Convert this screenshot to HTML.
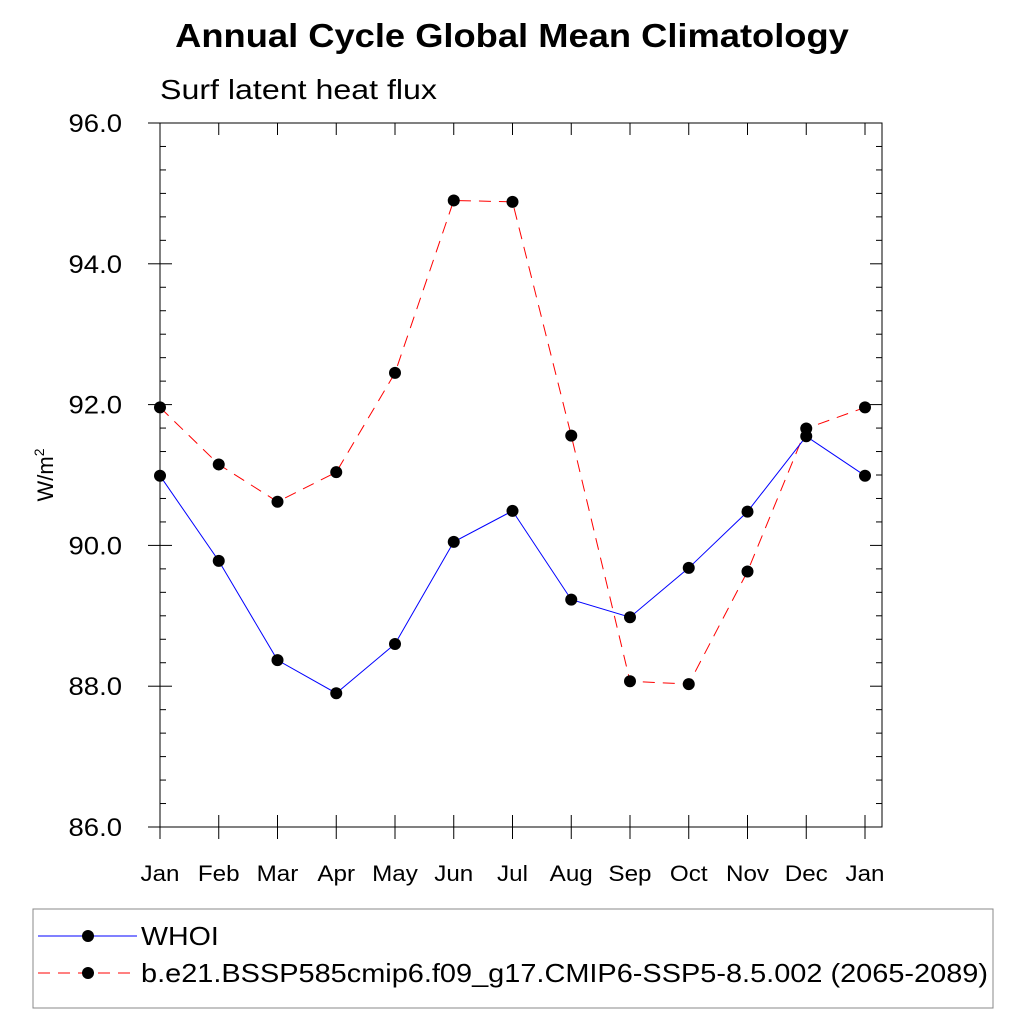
<!DOCTYPE html>
<html><head><meta charset="utf-8"><style>
body{margin:0;background:#fff;}
svg text{font-family:"Liberation Sans",sans-serif;}
</style></head><body>
<svg width="1024" height="1024" viewBox="0 0 1024 1024">
<text class="st" x="512" y="47" text-anchor="middle" font-size="33" font-weight="bold">Annual Cycle Global Mean Climatology</text>
<text class="st" data-w="277" x="160" y="99" font-size="28">Surf latent heat flux</text>
<g id="axes"></g>
<g id="series"></g>
<text transform="translate(53,475) rotate(-90)" text-anchor="middle" font-size="22">W/m<tspan dy="-9" font-size="14">2</tspan></text>
<rect x="33" y="909" width="960" height="99" fill="none" stroke="#888" stroke-width="1"/>
<g>
<line x1="38" y1="936" x2="137" y2="936" stroke="#00f" stroke-width="1"/>
<circle cx="88" cy="936" r="6" fill="#000"/>
<text class="st" x="141" y="945" font-size="26">WHOI</text></g>
<g>
<line x1="38" y1="973" x2="137" y2="973" stroke="#f00" stroke-width="1" stroke-dasharray="12,8"/>
<circle cx="88" cy="973" r="6" fill="#000"/>
<text class="st" data-w="847" x="141" y="982" font-size="26">b.e21.BSSP585cmip6.f09_g17.CMIP6-SSP5-8.5.002 (2065-2089)</text></g>
</svg>
<script>
const months=["Jan","Feb","Mar","Apr","May","Jun","Jul","Aug","Sep","Oct","Nov","Dec","Jan"];
const whoi=[90.99,89.78,88.37,87.9,88.6,90.05,90.49,89.23,88.98,89.68,90.48,91.55,90.99];
const model=[91.96,91.15,90.62,91.04,92.45,94.9,94.88,91.56,88.07,88.03,89.63,91.66,91.96];
const yTicks=[86,88,90,92,94,96];
const yTickLabels=["86.0","88.0","90.0","92.0","94.0","96.0"];
const NS="http://www.w3.org/2000/svg";
const L=160,R=882,T=123,B=827,yMin=86,yMax=96;
const xS=i=>L+i*(865-L)/(months.length-1);
const yS=v=>B-(v-yMin)/(yMax-yMin)*(B-T);
function mk(tag,attrs,parent){const e=document.createElementNS(NS,tag);for(const k in attrs)e.setAttribute(k,attrs[k]);parent.appendChild(e);return e;}
const ax=document.getElementById('axes');
const frame=mk('rect',{x:L,y:T,width:R-L,height:B-T,fill:'none',stroke:'#000','stroke-width':1},ax);


for(let v=yMin;v<=yMax+1e-6;v+=2/6){const y=yS(v);const major=Math.abs(v-Math.round(v/2)*2)<1e-6;const len=major?12:6;
mk('line',{x1:L,y1:y,x2:L+len,y2:y,stroke:'#000'},ax);mk('line',{x1:R,y1:y,x2:R-len,y2:y,stroke:'#000'},ax);
if(major)mk('line',{x1:L,y1:y,x2:L-12,y2:y,stroke:'#000'},ax);}
yTicks.forEach((v,i)=>{const t=mk('text',{x:122,y:yS(v)+9,'text-anchor':'end','font-size':25,'class':'st'},ax);t.textContent=yTickLabels[i];

});
months.forEach((m,i)=>{const x=xS(i);mk('line',{x1:x,y1:B,x2:x,y2:B-12,stroke:'#000'},ax);mk('line',{x1:x,y1:T,x2:x,y2:T+12,stroke:'#000'},ax);mk('line',{x1:x,y1:B,x2:x,y2:B+12,stroke:'#000'},ax);
const t=mk('text',{x:x,y:881,'text-anchor':'middle','font-size':22,'class':'st'},ax);t.textContent=m;

});
const sg=document.getElementById('series');
function series(vals,color,dash,name){const pts=vals.map((v,i)=>xS(i)+','+yS(v)).join(' ');
const pl=mk('polyline',{points:pts,fill:'none',stroke:color,'stroke-width':1,'stroke-dasharray':dash},sg);


vals.forEach((v,i)=>{const c=mk('circle',{cx:xS(i),cy:yS(v),r:6,fill:'#000'},sg);

});}
series(model,'#f00','12,8','model');
series(whoi,'#00f','none','whoi');
document.querySelectorAll('text.st').forEach(t=>{const w=t.getAttribute('data-w')?+t.getAttribute('data-w'):t.getComputedTextLength()*1.1;t.setAttribute('textLength',w.toFixed(1));t.setAttribute('lengthAdjust','spacingAndGlyphs');});
</script>
</body></html>
